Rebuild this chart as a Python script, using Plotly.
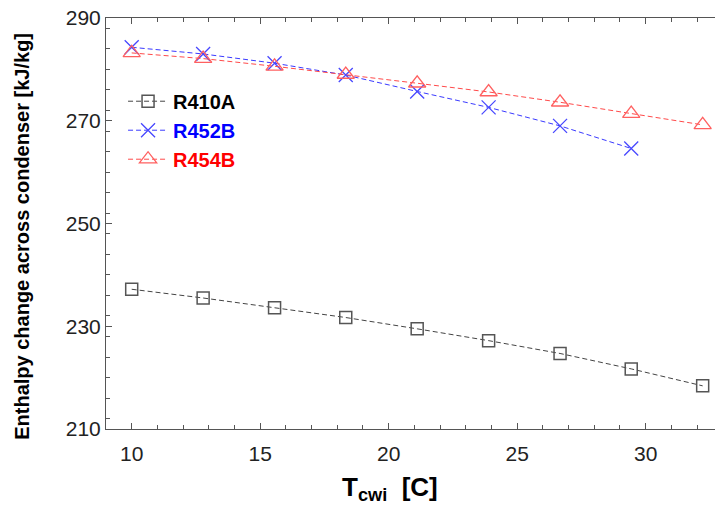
import plotly.graph_objects as go

# Condenser inlet water temperature [C] (50..90 F in 5 F steps)
t_cwi = [10.0, 12.78, 15.56, 18.33, 21.11, 23.89, 26.67, 29.44, 32.22]

# Enthalpy change across condenser [kJ/kg]
r410a = [237.2, 235.5, 233.6, 231.7, 229.5, 227.2, 224.7, 221.7, 218.4]
r452b = [284.3, 283.0, 281.2, 278.9, 275.7, 272.6, 269.0, 264.6]
r454b = [283.2, 282.1, 280.6, 279.0, 277.3, 275.6, 273.6, 271.4, 269.2]

x_ticks = [10, 15, 20, 25, 30]
y_ticks = [210, 230, 250, 270, 290]

FONT = "Arial, 'Liberation Sans', Helvetica, sans-serif"
AXIS_COLOR = "#555555"

fig = go.Figure()

fig.add_trace(go.Scatter(
    x=t_cwi, y=r410a, mode="lines+markers",
    name="<span style='color:#000000'>R410A</span>",
    legendgroup="a",
    line=dict(color="#444444", width=1, dash="5px,3px"),
    marker=dict(symbol="square-open", size=12, color="#555555",
                line=dict(width=1.5, color="#555555")),
))
fig.add_trace(go.Scatter(
    x=t_cwi[:len(r452b)], y=r452b, mode="lines+markers",
    name="<span style='color:#0000ff'>R452B</span>",
    legendgroup="b",
    line=dict(color="#3a3aff", width=1, dash="5px,3px"),
    marker=dict(symbol="x-thin-open", size=14, color="#4848ff",
                line=dict(width=1.3, color="#4848ff")),
))
fig.add_trace(go.Scatter(
    x=t_cwi, y=r454b, mode="lines+markers",
    name="<span style='color:#ff0000'>R454B</span>",
    legendgroup="c",
    line=dict(color="#ff4a4a", width=1, dash="5px,3px"),
    marker=dict(symbol="triangle-up-open", size=15, color="#ff6060",
                line=dict(width=1.3, color="#ff6060")),
))

axis_common = dict(
    showgrid=False, zeroline=False,
    showline=True, linecolor=AXIS_COLOR, linewidth=1,
    ticks="inside", ticklen=6, tickcolor=AXIS_COLOR, tickwidth=1,
    tickfont=dict(family=FONT, size=21, color="#222222"),
)

fig.update_layout(
    width=715, height=508,
    margin=dict(l=106, r=0, t=18, b=79),
    paper_bgcolor="white", plot_bgcolor="white",
    font=dict(family=FONT),
    showlegend=True,
    legend=dict(
        x=0.028, y=0.845, xanchor="left", yanchor="top",
        bgcolor="rgba(0,0,0,0)", borderwidth=0,
        font=dict(family=FONT, size=20, color="black", weight="bold"),
        traceorder="grouped", tracegroupgap=0,
        itemwidth=40,
    ),
    xaxis=dict(
        range=[9, 32.7], tickvals=x_ticks, mirror="ticks",
        ticklabelstandoff=6,
        minor=dict(dtick=1, ticks="inside", ticklen=4, tickcolor=AXIS_COLOR),
        **axis_common,
    ),
    yaxis=dict(
        range=[210, 290], tickvals=y_ticks, mirror=False,
        minor=dict(dtick=4, ticks="inside", ticklen=4, tickcolor=AXIS_COLOR),
        **axis_common,
    ),
    annotations=[
        dict(
            text="T<sub>cwi</sub>  [C]", xref="paper", yref="paper",
            x=0.466, y=-0.145, xanchor="center", yanchor="middle",
            showarrow=False,
            font=dict(family=FONT, size=26, color="black", weight="bold"),
        ),
        dict(
            text="Enthalpy change across condenser [kJ/kg]",
            xref="paper", yref="paper", x=-0.138, y=0.47,
            xanchor="center", yanchor="middle", textangle=-90,
            showarrow=False,
            font=dict(family=FONT, size=20, color="black", weight="bold"),
        ),
    ],
)

fig.write_html("out.html")
